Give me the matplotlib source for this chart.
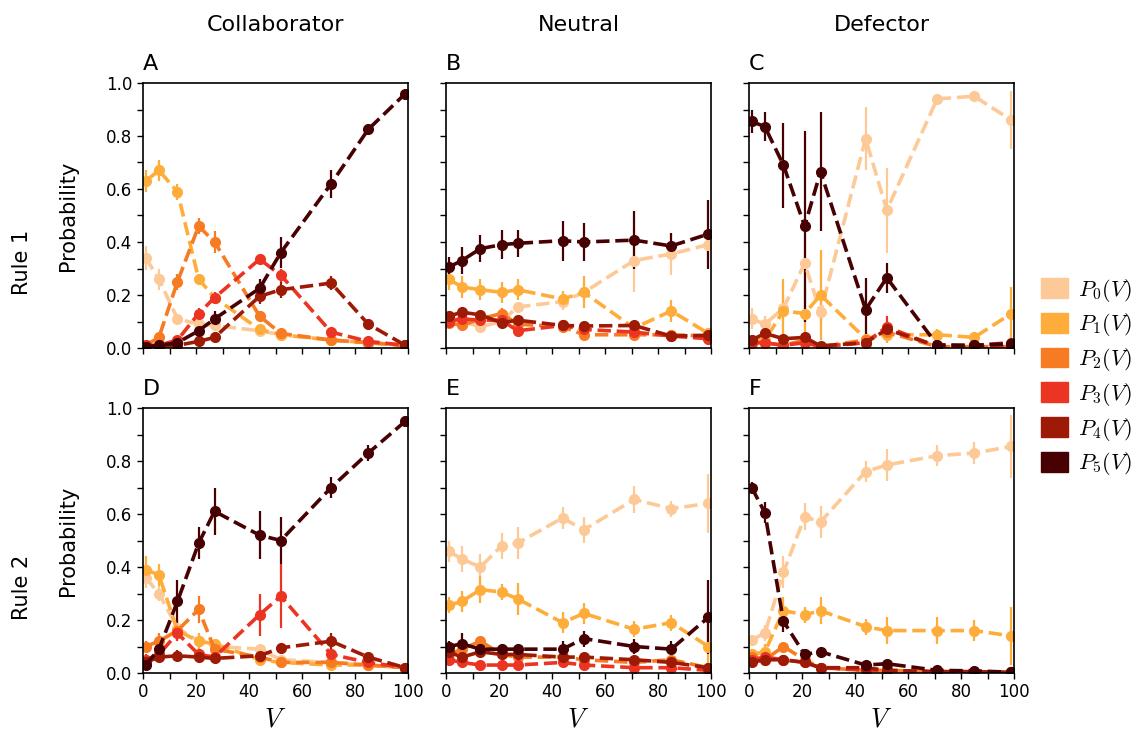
import matplotlib.pyplot as plt
from matplotlib.patches import Patch
from matplotlib.ticker import MultipleLocator

plt.rcParams['font.family'] = ['DejaVu Sans']
plt.rcParams['mathtext.fontset'] = 'cm'

# budget values V (shared by every panel)
V = [1, 6, 13, 21, 27, 44, 52, 71, 85, 99]

# rows are P0..P5, one list per panel, with matching error bars
prob_A = [[0.34, 0.26, 0.11, 0.09, 0.085, 0.065, 0.05, 0.03, 0.02, 0.01],
          [0.63, 0.67, 0.59, 0.26, 0.19, 0.07, 0.05, 0.03, 0.02, 0.01],
          [0.01, 0.04, 0.25, 0.46, 0.40, 0.12, 0.055, 0.03, 0.02, 0.01],
          [0.01, 0.01, 0.03, 0.13, 0.19, 0.335, 0.275, 0.06, 0.025, 0.01],
          [0.005, 0.005, 0.01, 0.025, 0.04, 0.195, 0.22, 0.245, 0.09, 0.01],
          [0.005, 0.01, 0.02, 0.065, 0.11, 0.225, 0.36, 0.62, 0.825, 0.96]]
err_A = [[0.045, 0.04, 0.02, 0.02, 0.015, 0.015, 0.01, 0.01, 0.01, 0.005],
         [0.04, 0.04, 0.03, 0.02, 0.02, 0.015, 0.01, 0.01, 0.01, 0.005],
         [0.01, 0.015, 0.03, 0.03, 0.04, 0.02, 0.01, 0.01, 0.005, 0.005],
         [0.005, 0.005, 0.01, 0.02, 0.02, 0.02, 0.025, 0.01, 0.01, 0.005],
         [0.005, 0.005, 0.005, 0.01, 0.01, 0.03, 0.03, 0.025, 0.015, 0.005],
         [0.005, 0.005, 0.01, 0.02, 0.03, 0.035, 0.057, 0.053, 0.02, 0.01]]

prob_B = [[0.12, 0.10, 0.08, 0.10, 0.155, 0.175, 0.21, 0.33, 0.355, 0.39],
          [0.26, 0.23, 0.22, 0.21, 0.22, 0.185, 0.21, 0.075, 0.14, 0.055],
          [0.095, 0.085, 0.11, 0.13, 0.09, 0.08, 0.05, 0.05, 0.05, 0.045],
          [0.10, 0.11, 0.105, 0.105, 0.065, 0.085, 0.07, 0.06, 0.045, 0.035],
          [0.12, 0.135, 0.125, 0.095, 0.105, 0.085, 0.083, 0.085, 0.045, 0.048],
          [0.305, 0.33, 0.375, 0.39, 0.395, 0.405, 0.40, 0.407, 0.385, 0.43]]
err_B = [[0.02, 0.02, 0.02, 0.02, 0.02, 0.03, 0.04, 0.12, 0.08, 0.05],
         [0.04, 0.04, 0.04, 0.04, 0.04, 0.03, 0.06, 0.02, 0.04, 0.02],
         [0.02, 0.02, 0.02, 0.02, 0.02, 0.02, 0.015, 0.015, 0.015, 0.015],
         [0.02, 0.02, 0.02, 0.02, 0.02, 0.02, 0.015, 0.015, 0.015, 0.015],
         [0.02, 0.02, 0.02, 0.02, 0.02, 0.02, 0.015, 0.015, 0.015, 0.015],
         [0.04, 0.05, 0.05, 0.055, 0.05, 0.075, 0.07, 0.11, 0.05, 0.13]]

prob_C = [[0.11, 0.09, 0.15, 0.32, 0.135, 0.79, 0.52, 0.94, 0.95, 0.86],
          [0.03, 0.03, 0.14, 0.13, 0.20, 0.035, 0.05, 0.05, 0.04, 0.13],
          [0.02, 0.02, 0.01, 0.03, 0.005, 0.03, 0.06, 0.005, 0.005, 0.005],
          [0.02, 0.02, 0.01, 0.02, 0.005, 0.02, 0.08, 0.005, 0.005, 0.005],
          [0.03, 0.055, 0.035, 0.04, 0.008, 0.02, 0.07, 0.008, 0.01, 0.02],
          [0.855, 0.835, 0.69, 0.46, 0.665, 0.145, 0.265, 0.012, 0.01, 0.015]]
err_C = [[0.04, 0.03, 0.05, 0.10, 0.05, 0.12, 0.16, 0.02, 0.02, 0.11],
         [0.02, 0.02, 0.12, 0.10, 0.17, 0.02, 0.03, 0.02, 0.02, 0.10],
         [0.01, 0.01, 0.01, 0.01, 0.005, 0.01, 0.03, 0.005, 0.005, 0.005],
         [0.01, 0.01, 0.01, 0.01, 0.005, 0.01, 0.04, 0.005, 0.005, 0.005],
         [0.015, 0.015, 0.015, 0.015, 0.005, 0.015, 0.03, 0.005, 0.005, 0.01],
         [0.045, 0.055, 0.16, 0.36, 0.225, 0.12, 0.057, 0.01, 0.01, 0.01]]

prob_D = [[0.36, 0.30, 0.17, 0.12, 0.10, 0.09, 0.05, 0.04, 0.03, 0.02],
          [0.39, 0.37, 0.16, 0.12, 0.11, 0.05, 0.04, 0.03, 0.03, 0.02],
          [0.10, 0.12, 0.16, 0.24, 0.09, 0.06, 0.04, 0.04, 0.03, 0.02],
          [0.05, 0.07, 0.15, 0.07, 0.06, 0.22, 0.29, 0.07, 0.04, 0.02],
          [0.04, 0.06, 0.065, 0.06, 0.055, 0.065, 0.095, 0.12, 0.06, 0.02],
          [0.03, 0.09, 0.27, 0.49, 0.61, 0.52, 0.50, 0.70, 0.83, 0.95]]
err_D = [[0.04, 0.03, 0.03, 0.02, 0.02, 0.02, 0.01, 0.01, 0.01, 0.005],
         [0.05, 0.04, 0.03, 0.03, 0.02, 0.015, 0.01, 0.01, 0.01, 0.005],
         [0.02, 0.03, 0.04, 0.05, 0.02, 0.02, 0.01, 0.01, 0.01, 0.005],
         [0.02, 0.02, 0.03, 0.02, 0.02, 0.08, 0.12, 0.02, 0.01, 0.005],
         [0.02, 0.02, 0.02, 0.02, 0.01, 0.02, 0.02, 0.03, 0.015, 0.005],
         [0.02, 0.03, 0.08, 0.06, 0.09, 0.09, 0.09, 0.04, 0.03, 0.02]]

prob_E = [[0.46, 0.43, 0.40, 0.48, 0.49, 0.585, 0.54, 0.655, 0.62, 0.64],
          [0.255, 0.27, 0.315, 0.305, 0.28, 0.19, 0.225, 0.165, 0.19, 0.10],
          [0.07, 0.09, 0.12, 0.07, 0.06, 0.06, 0.05, 0.04, 0.05, 0.02],
          [0.05, 0.04, 0.03, 0.03, 0.03, 0.04, 0.03, 0.02, 0.02, 0.01],
          [0.08, 0.06, 0.08, 0.07, 0.07, 0.06, 0.06, 0.05, 0.04, 0.02],
          [0.10, 0.11, 0.09, 0.09, 0.09, 0.09, 0.13, 0.10, 0.09, 0.21]]
err_E = [[0.04, 0.05, 0.05, 0.05, 0.06, 0.04, 0.05, 0.05, 0.03, 0.11],
         [0.03, 0.04, 0.05, 0.03, 0.06, 0.04, 0.04, 0.03, 0.03, 0.09],
         [0.015, 0.015, 0.015, 0.015, 0.015, 0.015, 0.015, 0.015, 0.015, 0.01],
         [0.01, 0.01, 0.01, 0.01, 0.01, 0.01, 0.01, 0.01, 0.01, 0.005],
         [0.015, 0.015, 0.015, 0.015, 0.015, 0.015, 0.015, 0.015, 0.015, 0.01],
         [0.02, 0.04, 0.03, 0.02, 0.02, 0.03, 0.03, 0.03, 0.03, 0.14]]

prob_F = [[0.125, 0.15, 0.38, 0.59, 0.57, 0.76, 0.785, 0.82, 0.83, 0.855],
          [0.07, 0.08, 0.235, 0.22, 0.235, 0.175, 0.16, 0.16, 0.16, 0.14],
          [0.06, 0.05, 0.10, 0.05, 0.02, 0.01, 0.01, 0.005, 0.005, 0.002],
          [0.05, 0.06, 0.05, 0.04, 0.02, 0.01, 0.01, 0.005, 0.005, 0.002],
          [0.04, 0.05, 0.05, 0.04, 0.02, 0.02, 0.01, 0.005, 0.005, 0.002],
          [0.70, 0.605, 0.195, 0.07, 0.08, 0.03, 0.035, 0.01, 0.008, 0.003]]
err_F = [[0.02, 0.03, 0.06, 0.05, 0.06, 0.04, 0.06, 0.04, 0.04, 0.12],
         [0.02, 0.03, 0.05, 0.03, 0.05, 0.03, 0.05, 0.05, 0.04, 0.11],
         [0.015, 0.015, 0.015, 0.015, 0.01, 0.005, 0.005, 0.005, 0.005, 0.002],
         [0.015, 0.015, 0.015, 0.015, 0.01, 0.005, 0.005, 0.005, 0.005, 0.002],
         [0.015, 0.015, 0.015, 0.015, 0.01, 0.005, 0.005, 0.005, 0.005, 0.002],
         [0.02, 0.04, 0.04, 0.02, 0.02, 0.01, 0.01, 0.005, 0.005, 0.003]]

colors = ['#FDC997', '#FEAD3A', '#F77B22', '#EC3423', '#9C1A06', '#470102']
labels = ['$P_%d(V)$' % i for i in range(6)]
columns = ['Collaborator', 'Neutral', 'Defector']
rows = ['Rule 1', 'Rule 2']
letters = [['A', 'B', 'C'], ['D', 'E', 'F']]
panels = [[(prob_A, err_A), (prob_B, err_B), (prob_C, err_C)],
          [(prob_D, err_D), (prob_E, err_E), (prob_F, err_F)]]

W, H = 1142, 749
lefts = [143, 446, 749]
tops = [83, 408]
size = 265

fig = plt.figure(figsize=(W / 100, H / 100), dpi=100)

for r in range(2):
    for c in range(3):
        ax = fig.add_axes([lefts[c] / W, 1 - (tops[r] + size) / H, size / W, size / H])
        probs, errs = panels[r][c]
        for k in range(6):
            ax.errorbar(V, probs[k], yerr=errs[k], color=colors[k], ls='--', lw=2.6,
                        marker='o', ms=7, elinewidth=1.6, capsize=0, dashes=(3.7, 1.6))
        ax.set_xlim(0, 100)
        ax.set_ylim(0, 1)
        ax.xaxis.set_major_locator(MultipleLocator(20))
        ax.xaxis.set_minor_locator(MultipleLocator(10))
        ax.yaxis.set_major_locator(MultipleLocator(0.2))
        ax.yaxis.set_minor_locator(MultipleLocator(0.1))
        ax.tick_params(which='both', direction='out', length=4, width=1, labelsize=12)
        for s in ax.spines.values():
            s.set_linewidth(1.2)
        if c > 0:
            ax.tick_params(labelleft=False)
        else:
            ax.set_ylabel('Probability', fontsize=15, labelpad=20)
        if r == 0:
            ax.tick_params(labelbottom=False)
        else:
            ax.set_xlabel('$V$', fontsize=19, labelpad=4)
        ax.text(0, 1.07, letters[r][c], transform=ax.transAxes, fontsize=16,
                ha='left', va='center')

# column and row headings
for c in range(3):
    fig.text((lefts[c] + size / 2) / W, 1 - 25 / H, columns[c], fontsize=16,
             ha='center', va='center')
for r in range(2):
    fig.text(22 / W, 1 - (tops[r] + size / 2 + 47) / H, rows[r], fontsize=15,
             rotation=90, ha='center', va='center')

handles = [Patch(color=colors[k], label=labels[k]) for k in range(6)]
fig.legend(handles=handles, loc='center left', bbox_to_anchor=(1030 / W, 1 - 377 / H),
           frameon=False, fontsize=16, handlelength=1.2, handleheight=1.0,
           labelspacing=0.35, handletextpad=0.45, borderpad=0)

fig.savefig('out.png', dpi=100)
